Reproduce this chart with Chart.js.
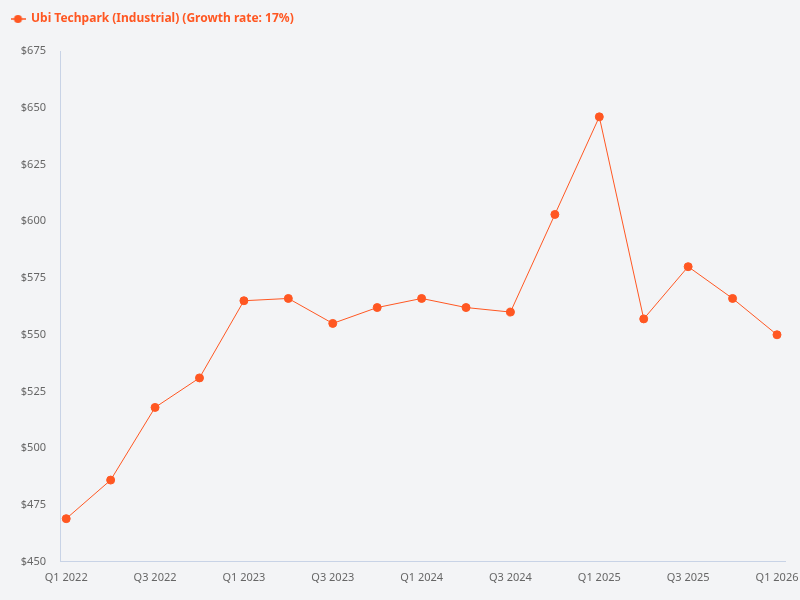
<!DOCTYPE html>
<html>
<head>
<meta charset="utf-8">
<script src="https://cdn.jsdelivr.net/npm/chart.js@4/dist/chart.umd.min.js"></script>
<style>
  html, body { margin: 0; padding: 0; background: #f3f4f6; }
  #wrap { width: 800px; height: 600px; }
</style>
</head>
<body>
<div id="wrap"><canvas id="chart"></canvas></div>
<script>
// Quarterly values
const quarters = [
  "Q1 2022", "Q2 2022", "Q3 2022", "Q4 2022",
  "Q1 2023", "Q2 2023", "Q3 2023", "Q4 2023",
  "Q1 2024", "Q2 2024", "Q3 2024", "Q4 2024",
  "Q1 2025", "Q2 2025", "Q3 2025", "Q4 2025",
  "Q1 2026",
];
const prices = [
  469, 486, 518, 531,
  565, 566, 555, 562,
  566, 562, 560, 603,
  646, 557, 580, 566,
  550,
];
const seriesName = "Ubi Techpark (Industrial) (Growth rate: 17%)";

const lineColor = "#ff5722";

// legend marker: short line with a dot
function legendMarker() {
  const c = document.createElement("canvas");
  c.width = 15;
  c.height = 10;
  const ctx = c.getContext("2d");
  ctx.strokeStyle = lineColor;
  ctx.lineWidth = 1.5;
  ctx.beginPath();
  ctx.moveTo(0, 5);
  ctx.lineTo(15, 5);
  ctx.stroke();
  ctx.fillStyle = lineColor;
  ctx.beginPath();
  ctx.arc(7.5, 5, 4, 0, Math.PI * 2);
  ctx.fill();
  return c;
}

// push the plot down below the legend
const legendSpacer = {
  id: "legendSpacer",
  beforeInit(chart) {
    const fit = chart.legend.fit;
    chart.legend.fit = function () {
      fit.call(this);
      this.height += 16;
    };
  },
};

Chart.defaults.font.family = "'Noto Sans', 'Open Sans', sans-serif";
Chart.defaults.color = "#666";

new Chart(document.getElementById("chart"), {
  type: "line",
  data: {
    datasets: [
      {
        label: seriesName,
        data: prices.map((v, i) => ({ x: i, y: v })),
        borderColor: lineColor,
        backgroundColor: lineColor,
        borderWidth: 1,
        pointRadius: 4,
        pointHoverRadius: 5,
        pointStyle: "circle",
        tension: 0,
      },
    ],
  },
  options: {
    responsive: true,
    maintainAspectRatio: false,
    animation: false,
    layout: { padding: { left: 1, right: 15, top: 3, bottom: 7 } },
    plugins: {
      legend: {
        position: "top",
        align: "start",
        labels: {
          usePointStyle: true,
          pointStyle: legendMarker(),
          pointStyleWidth: 14,
          color: lineColor,
          font: { size: 12, weight: "bold" },
        },
      },
    },
    scales: {
      x: {
        type: "linear",
        min: -0.14,
        max: 16.18,
        grid: { display: false, drawTicks: false },
        border: { color: "#c8d3e6" },
        afterBuildTicks(axis) {
          axis.ticks = quarters
            .map((q, i) => ({ value: i }))
            .filter((t) => t.value % 2 === 0);
        },
        afterFit(axis) {
          // let the end labels hang past the axis
          axis.paddingRight = 0;
          axis.paddingLeft = 0;
        },
        ticks: {
          font: { size: 11 },
          color: "#666",
          maxRotation: 0,
          padding: 9,
          callback: function (value) {
            return quarters[value];
          },
        },
      },
      y: {
        min: 450,
        max: 675,
        grid: { display: false, drawTicks: false },
        border: { color: "#c8d3e6" },
        afterFit(axis) {
          axis.width = 59;
        },
        ticks: {
          stepSize: 25,
          font: { size: 11 },
          color: "#666",
          padding: 14,
          callback: function (value) {
            return "$" + value;
          },
        },
      },
    },
  },
  plugins: [legendSpacer],
});
</script>
</body>
</html>
